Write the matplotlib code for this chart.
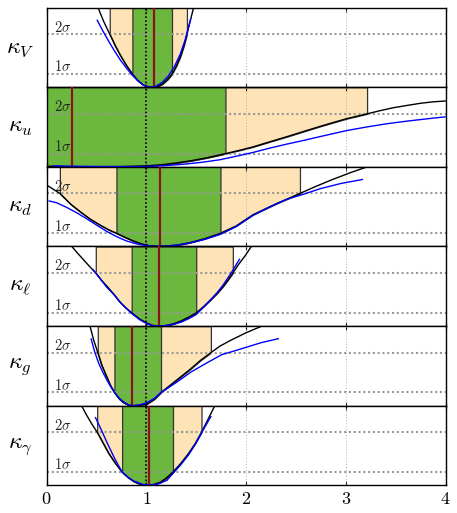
import matplotlib

matplotlib.use("Agg")

import matplotlib.pyplot as plt
import numpy as np

plt.rcParams["mathtext.fontset"] = "cm"
plt.rcParams["font.family"] = "serif"
plt.rcParams["font.serif"] = ["cmr10", "DejaVu Serif"]

# --- data ------------------------------------------------------------------
labels = [r"$\kappa_V$", r"$\kappa_u$", r"$\kappa_d$", r"$\kappa_\ell$", r"$\kappa_g$", r"$\kappa_\gamma$"]
best_fit = [1.073, 0.25, 1.133, 1.123, 0.86, 1.023]
sigma_levels = [1.0, 4.0]          # delta chi^2 for 1 sigma, 2 sigma
sigma_names = [r"$1\sigma$", r"$2\sigma$"]
xticks = [0, 1, 2, 3, 4]
xticklabels = [r"$0$", r"$1$", r"$2$", r"$3$", r"$4$"]

# black = full fit, blue = alternative fit
kv_x = [0.513, 0.57, 0.633, 0.69, 0.74, 0.80, 0.86, 0.91, 0.96, 1.01, 1.06, 1.11, 1.16, 1.21, 1.257, 1.30, 1.34, 1.375, 1.407, 1.44, 1.475]
kv_y = [6.05, 5.0, 4.0, 3.1, 2.4, 1.65, 1.0, 0.55, 0.22, 0.05, 0.0, 0.06, 0.25, 0.58, 1.0, 1.6, 2.3, 3.1, 4.0, 5.0, 6.05]
kv_bx = [0.508, 0.56, 0.62, 0.68, 0.74, 0.80, 0.86, 0.92, 0.98, 1.04, 1.10, 1.16, 1.22, 1.28, 1.34, 1.39, 1.444]
kv_by = [5.05, 4.3, 3.5, 2.75, 2.05, 1.45, 0.9, 0.45, 0.12, 0.0, 0.1, 0.38, 0.85, 1.55, 2.5, 3.6, 5.15]

ku_x = [0.0, 0.07, 0.25, 0.5, 0.75, 1.0, 1.15, 1.3, 1.45, 1.6, 1.793, 1.95, 2.07, 2.24, 2.41, 2.58, 2.74, 2.88, 3.01, 3.213, 3.35, 3.476, 3.62, 3.744, 3.87, 4.0]
ku_y = [0.05, 0.05, 0.0, 0.01, 0.03, 0.08, 0.16, 0.3, 0.47, 0.68, 1.0, 1.28, 1.51, 1.9, 2.28, 2.68, 3.05, 3.36, 3.64, 4.0, 4.25, 4.46, 4.64, 4.79, 4.9, 4.97]
ku_bx = [0.067, 0.4, 0.8, 1.0, 1.2, 1.4, 1.57, 1.738, 1.9, 2.07, 2.24, 2.41, 2.58, 2.74, 2.88, 3.01, 3.21, 3.41, 3.58, 3.74, 3.87, 3.995]
ku_by = [0.08, 0.04, 0.02, 0.03, 0.1, 0.22, 0.36, 0.54, 0.8, 1.09, 1.42, 1.72, 2.0, 2.28, 2.52, 2.74, 3.01, 3.25, 3.42, 3.56, 3.67, 3.77]

kd_x = [0.0, 0.007, 0.07, 0.133, 0.24, 0.34, 0.44, 0.54, 0.62, 0.70, 0.79, 0.873, 0.96, 1.04, 1.12, 1.207, 1.32, 1.44, 1.59, 1.743, 1.9, 2.07, 2.31, 2.54, 2.69, 2.84, 3.04, 3.24]
kd_y = [4.7, 4.6, 4.3, 4.0, 3.2, 2.6, 2.05, 1.6, 1.27, 1.0, 0.68, 0.41, 0.18, 0.05, 0.0, 0.03, 0.12, 0.3, 0.6, 1.0, 1.55, 2.4, 3.25, 4.0, 4.5, 4.97, 5.55, 6.07]
kd_bx = [0.026, 0.1, 0.2, 0.3, 0.4, 0.5, 0.6, 0.7, 0.8, 0.9, 1.0, 1.1, 1.2, 1.32, 1.44, 1.59, 1.743, 1.9, 2.07, 2.24, 2.41, 2.58, 2.74, 2.95, 3.166]
kd_by = [3.43, 3.3, 2.95, 2.55, 2.1, 1.62, 1.15, 0.75, 0.42, 0.2, 0.07, 0.02, 0.04, 0.12, 0.28, 0.55, 0.92, 1.5, 2.35, 3.0, 3.56, 3.95, 4.35, 4.75, 5.05]

kl_x = [0.247, 0.31, 0.37, 0.43, 0.493, 0.55, 0.61, 0.673, 0.73, 0.79, 0.853, 0.93, 1.007, 1.06, 1.123, 1.2, 1.273, 1.35, 1.43, 1.5, 1.57, 1.64, 1.707, 1.77, 1.82, 1.867, 1.92, 1.99, 2.057]
kl_y = [6.05, 5.5, 5.0, 4.5, 4.0, 3.45, 2.95, 2.4, 1.85, 1.4, 1.0, 0.55, 0.22, 0.06, 0.0, 0.05, 0.18, 0.4, 0.7, 1.0, 1.45, 1.95, 2.45, 3.0, 3.5, 4.0, 4.6, 5.3, 6.05]
kl_bx = [0.467, 0.53, 0.6, 0.673, 0.75, 0.853, 0.93, 1.007, 1.06, 1.107, 1.2, 1.273, 1.35, 1.43, 1.5, 1.57, 1.64, 1.707, 1.77, 1.85, 1.933]
kl_by = [4.25, 3.65, 2.95, 2.4, 1.7, 0.95, 0.5, 0.17, 0.04, 0.0, 0.04, 0.13, 0.3, 0.58, 0.87, 1.4, 1.95, 2.5, 3.1, 4.0, 5.03]

kg_x = [0.433, 0.47, 0.513, 0.55, 0.59, 0.635, 0.68, 0.73, 0.773, 0.82, 0.86, 0.93, 1.007, 1.08, 1.147, 1.24, 1.34, 1.44, 1.54, 1.647, 1.74, 1.838, 2.0, 2.19]
kg_y = [6.05, 5.0, 4.0, 3.1, 2.4, 1.6, 1.0, 0.5, 0.23, 0.06, 0.0, 0.04, 0.15, 0.5, 1.0, 1.55, 2.15, 2.75, 3.4, 4.0, 4.5, 4.9, 5.5, 6.1]
kg_bx = [0.447, 0.48, 0.523, 0.565, 0.607, 0.645, 0.68, 0.73, 0.78, 0.82, 0.86, 0.93, 1.007, 1.08, 1.147, 1.3, 1.45, 1.6, 1.757, 1.87, 2.0, 2.15, 2.323]
kg_by = [5.03, 4.1, 3.18, 2.5, 1.9, 1.4, 1.0, 0.55, 0.25, 0.07, 0.0, 0.06, 0.23, 0.55, 1.0, 1.75, 2.55, 3.2, 3.85, 4.1, 4.4, 4.75, 5.05]

ka_x = [0.347, 0.40, 0.455, 0.507, 0.565, 0.623, 0.69, 0.757, 0.815, 0.873, 0.94, 1.007, 1.07, 1.14, 1.2, 1.267, 1.345, 1.423, 1.49, 1.553, 1.62, 1.69]
ka_y = [6.05, 5.3, 4.6, 4.0, 3.2, 2.4, 1.65, 1.0, 0.6, 0.3, 0.08, 0.0, 0.06, 0.23, 0.55, 1.0, 1.65, 2.4, 3.15, 4.0, 5.0, 6.05]
ka_bx = [0.49, 0.55, 0.607, 0.68, 0.757, 0.815, 0.873, 0.96, 1.04, 1.12, 1.207, 1.267, 1.345, 1.423, 1.49, 1.553, 1.647]
ka_by = [5.1, 4.15, 3.2, 2.05, 1.0, 0.62, 0.33, 0.08, 0.0, 0.1, 0.38, 0.9, 1.55, 2.3, 3.1, 3.95, 5.18]

curves = [
    (kv_x, kv_y, kv_bx, kv_by),
    (ku_x, ku_y, ku_bx, ku_by),
    (kd_x, kd_y, kd_bx, kd_by),
    (kl_x, kl_y, kl_bx, kl_by),
    (kg_x, kg_y, kg_bx, kg_by),
    (ka_x, ka_y, ka_bx, ka_by),
]

YMAX = 6.0
TAN = "#fde3b5"
GREEN = "#6cb83f"
EDGE = "#333333"
DARKRED = "#8b1414"

fig, axes = plt.subplots(6, 1, sharex=True, figsize=(4.57, 5.13), dpi=100)
fig.subplots_adjust(left=0.102, right=0.975, top=0.985, bottom=0.054, hspace=0)

for ax, lab, best, (x, y, bx, by) in zip(axes, labels, best_fit, curves):
    x = np.asarray(x)
    y = np.asarray(y)
    # 2 sigma (tan) then 1 sigma (green) bands, bounded below by the curve
    ax.fill_between(x, y, YMAX, where=y <= sigma_levels[1], facecolor=TAN,
                    edgecolor=EDGE, linewidth=0.9, zorder=1)
    ax.fill_between(x, y, YMAX, where=y <= sigma_levels[0], facecolor=GREEN,
                    edgecolor=EDGE, linewidth=0.9, zorder=1.1)

    for gx in xticks[1:-1]:
        ax.axvline(gx, color="#b0b0b0", lw=0.7, ls=(0, (1, 2)), zorder=2)
    for lev, name in zip(sigma_levels, sigma_names):
        ax.axhline(lev, color="#999999", lw=1.5, ls=(0, (1, 1.3)), zorder=2)
        ax.text(0.075, lev + 0.2, name, fontsize=10.5, color="#222222",
                ha="left", va="baseline", zorder=6)

    ax.axvline(1.0, color="black", lw=1.2, ls=(0, (1, 1.3)), zorder=3)
    ax.axvline(best, color=DARKRED, lw=1.6, zorder=4)

    ax.plot(x, y, color="black", lw=1.0, zorder=5)
    ax.plot(bx, by, color="blue", lw=1.0, zorder=5)

    ax.set_ylim(0, YMAX)
    ax.set_yticks([])
    ax.tick_params(axis="x", direction="in", top=True, length=3, width=0.8)
    for sp in ax.spines.values():
        sp.set_linewidth(1.0)
    ax.text(-0.067, 0.5, lab, transform=ax.transAxes, fontsize=17,
            ha="center", va="center")

axes[-1].set_xlim(0, 4)
axes[-1].set_xticks(xticks)
axes[-1].set_xticklabels(xticklabels, fontsize=13)
axes[-1].tick_params(axis="x", pad=4)

fig.savefig("out.png", dpi=100)
